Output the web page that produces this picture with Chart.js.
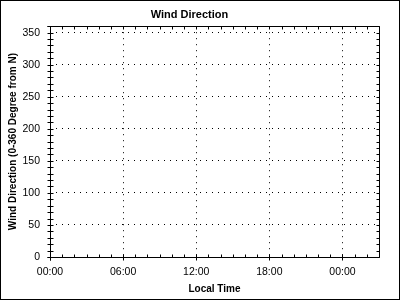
<!DOCTYPE html>
<html>
<head>
<meta charset="utf-8">
<script src="https://cdn.jsdelivr.net/npm/chart.js@4.4.0/dist/chart.umd.min.js"></script>
<style>
html, body { margin: 0; padding: 0; background: #fff; }
#wrap { width: 400px; height: 300px; }
</style>
</head>
<body>
<div id="wrap"><canvas id="WindGraph" width="400" height="300"></canvas></div>
<script>
const ctx = document.getElementById('WindGraph');

// the reference plot has no observations, so the series are empty
let localHours = [];
let windDirection = [];

let xTickHours = [0, 6, 12, 18, 24];
let xTickLabels = ['00:00', '06:00', '12:00', '18:00', '00:00'];
let yTickValues = [0, 50, 100, 150, 200, 250, 300, 350];

const xMax = 27;
const yMax = 360;
const fontFamily = "'Liberation Sans', Arial, sans-serif";

// box round the plot, small tick marks on all four sides, border round the picture
const frame = {
    id: 'frame',
    beforeDraw: (chart) => {
        const c = chart.ctx;
        c.save();
        c.fillStyle = '#fff';
        c.fillRect(0, 0, chart.width, chart.height);
        c.restore();
    },
    afterDraw: (chart) => {
        const c = chart.ctx;
        const area = chart.chartArea;
        const xs = chart.scales.x;
        const ys = chart.scales.y;
        const L = Math.round(area.left) + 0.5;
        const R = Math.round(area.right) + 0.5;
        const T = Math.round(area.top) + 0.5;
        const B = Math.round(area.bottom) + 0.5;
        c.save();
        c.strokeStyle = '#000';
        c.lineWidth = 1;
        c.beginPath();
        c.moveTo(L - 3, T); c.lineTo(R, T); c.lineTo(R, B); c.lineTo(L - 3, B);
        c.moveTo(L, T); c.lineTo(L, B + 3);
        for (let h = 0; h <= xMax; h++) {
            const px = Math.round(xs.getPixelForValue(h)) + 0.5;
            c.moveTo(px, B - 3); c.lineTo(px, h % 6 === 0 ? B + 3 : B);
            c.moveTo(px, T); c.lineTo(px, T + 3);
        }
        for (let v = 0; v <= yMax; v += 10) {
            const py = Math.round(ys.getPixelForValue(v)) + 0.5;
            c.moveTo(L - 3, py); c.lineTo(L + 3, py);
            c.moveTo(R - 3, py); c.lineTo(R, py);
        }
        c.stroke();
        c.strokeRect(0.5, 0.5, chart.width - 1, chart.height - 1);
        c.restore();
    }
};

new Chart(ctx, {
    type: 'line',
    data: {
        datasets: [{
            label: 'Wind Direction',
            data: localHours.map((h, i) => ({ x: h, y: windDirection[i] })),
            borderColor: '#0000ff',
            pointRadius: 0,
            fill: false
        }]
    },
    options: {
        responsive: false,
        animation: false,
        layout: { padding: { left: 0, right: 21, top: 0, bottom: 0 } },
        plugins: {
            legend: { display: false },
            tooltip: { enabled: false },
            title: {
                display: true,
                text: 'Wind Direction',
                color: '#000',
                font: { family: fontFamily, size: 11, weight: 'bold' },
                padding: { top: 8, bottom: 5 }
            }
        },
        scales: {
            x: {
                type: 'linear',
                min: 0,
                max: xMax,
                afterBuildTicks: (s) => { s.ticks = xTickHours.map(v => ({ value: v })); },
                afterFit: (s) => { s.height = 43; },
                grid: { color: '#000', lineWidth: 1, drawTicks: false },
                border: { display: false, dash: [1, 5] },
                ticks: {
                    callback: (v, i) => xTickLabels[i],
                    color: '#000',
                    font: { family: fontFamily, size: 10.5 },
                    padding: 9,
                    maxRotation: 0,
                    autoSkip: false
                },
                title: {
                    display: true,
                    text: 'Local Time',
                    color: '#000',
                    font: { family: fontFamily, size: 10, weight: 'bold' },
                    padding: { top: 0, bottom: 5 }
                }
            },
            y: {
                min: 0,
                max: yMax,
                afterBuildTicks: (s) => { s.ticks = yTickValues.map(v => ({ value: v })); },
                afterFit: (s) => { s.width = 50; },
                grid: { color: '#000', lineWidth: 1, drawTicks: false },
                border: { display: false, dash: [1, 5] },
                ticks: {
                    color: '#000',
                    font: { family: fontFamily, size: 10.5 },
                    padding: 10
                },
                title: {
                    display: true,
                    text: 'Wind Direction (0-360 Degree from N)',
                    color: '#000',
                    font: { family: fontFamily, size: 10, weight: 'bold' },
                    padding: { top: 7, bottom: 0 }
                }
            }
        }
    },
    plugins: [frame]
});
</script>
</body>
</html>
